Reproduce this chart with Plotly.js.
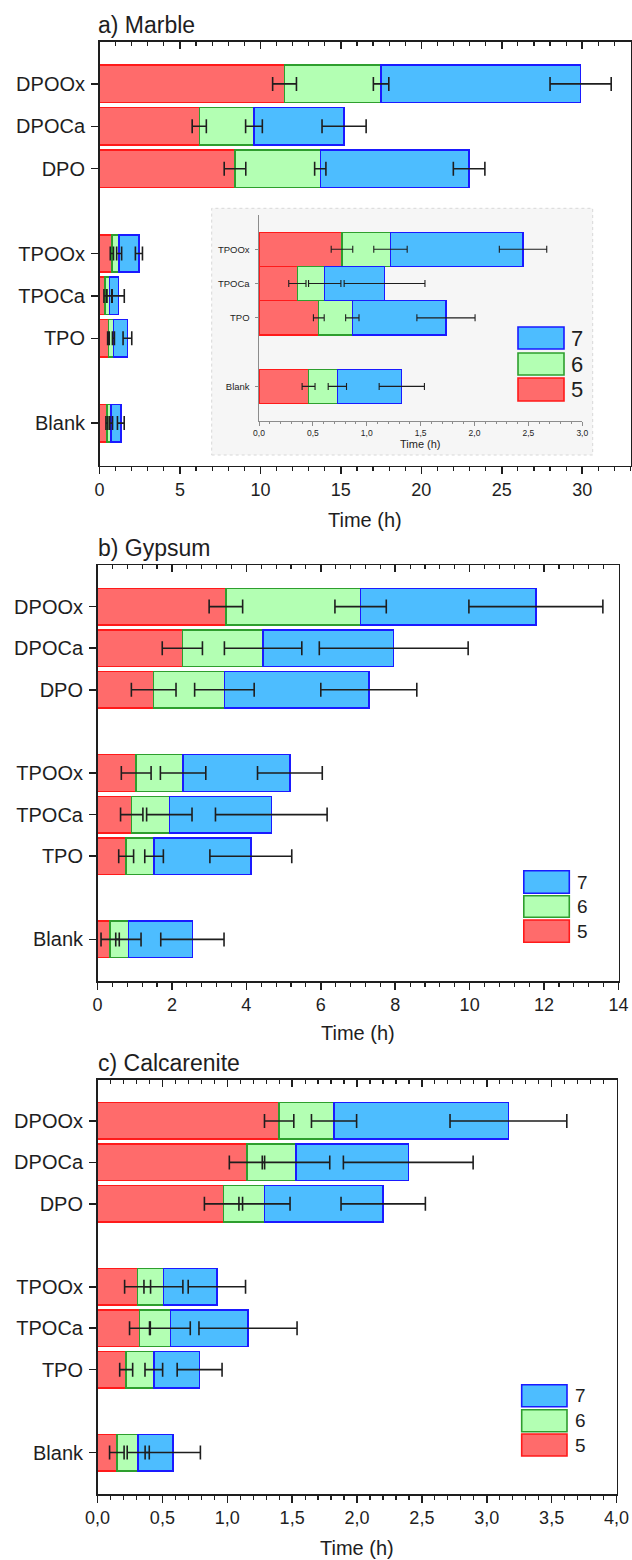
<!DOCTYPE html>
<html><head><meta charset="utf-8">
<script src="https://cdn.plot.ly/plotly-3.0.1.min.js"></script>
<style>html,body{margin:0;padding:0;background:#fff}#chart{width:632px;height:1560px}</style>
</head><body><div id="chart"></div>
<script>
// ---------- DATA ----------
const categories = ['DPOOx', 'DPOCa', 'DPO', 'TPOOx', 'TPOCa', 'TPO', 'Blank'];
const stages = ['5', '6', '7'];
const insetCategories = ['TPOOx', 'TPOCa', 'TPO', 'Blank'];

// a) Marble — cumulative time (h) to reach stage 5, 6, 7, and their errors
const marble5 = [11.5, 6.2, 8.42, 0.77, 0.356, 0.555, 0.46];
const marble6 = [17.5, 9.6, 13.72, 1.22, 0.61, 0.866, 0.727];
const marble7 = [29.9, 15.2, 22.97, 2.45, 1.165, 1.735, 1.325];
const marbleErr5 = [0.74, 0.44, 0.67, 0.10, 0.08, 0.05, 0.06];
const marbleErr6 = [0.48, 0.52, 0.35, 0.155, 0.15, 0.062, 0.085];
const marbleErr7 = [1.9, 1.37, 0.98, 0.22, 0.375, 0.27, 0.21];

// b) Gypsum
const gypsum5 = [3.45, 2.28, 1.51, 1.04, 0.92, 0.77, 0.34];
const gypsum6 = [7.07, 4.45, 3.41, 2.30, 1.93, 1.52, 0.83];
const gypsum7 = [11.78, 7.96, 7.29, 5.17, 4.67, 4.12, 2.55];
const gypsumErr5 = [0.45, 0.54, 0.6, 0.4, 0.3, 0.2, 0.245];
const gypsumErr6 = [0.69, 1.04, 0.8, 0.61, 0.61, 0.25, 0.34];
const gypsumErr7 = [1.8, 2.0, 1.29, 0.87, 1.5, 1.1, 0.85];

// c) Calcarenite
const calc5 = [1.40, 1.152, 0.971, 0.309, 0.324, 0.221, 0.149];
const calc6 = [1.823, 1.53, 1.287, 0.508, 0.561, 0.434, 0.314];
const calc7 = [3.167, 2.395, 2.202, 0.92, 1.16, 0.787, 0.58];
const calcErr5 = [0.113, 0.136, 0.147, 0.1, 0.077, 0.05, 0.056];
const calcErr6 = [0.174, 0.26, 0.197, 0.15, 0.154, 0.068, 0.085];
const calcErr7 = [0.45, 0.5, 0.325, 0.221, 0.378, 0.173, 0.213];

// ---------- STYLE / LAYOUT ----------
const W = 632, H = 1560;
const X = px => px / W;
const Y = py => 1 - py / H;
const FONT = 'Liberation Sans, Arial, Helvetica, sans-serif';
const INK = '#1e1e1e';
const fills = ['#ff6b6b', '#b3ffb3', '#4dbdff'];
const edges = ['#ff1a1a', '#2e9e2e', '#1a1aff'];

// slot positions: consecutive, with one empty slot between groups
function groupOf(name) { return name.startsWith('DPO') ? 'D' : name.startsWith('TPO') ? 'T' : 'B'; }
function slots(cats) {
  const out = []; let p = 0;
  cats.forEach((c, i) => { if (i > 0 && groupOf(c) !== groupOf(cats[i - 1])) p += 1; out.push(p); p += 1; });
  return out;
}
const pos = slots(categories);
const insetPos = slots(insetCategories);

const panels = [
  { title: 'a) Marble', cum: [marble5, marble6, marble7], err: [marbleErr5, marbleErr6, marbleErr7],
    range: [0, 33], dtick: 5, minor: 1, fmt: '', px: [99.5, 630.5], py: [41.5, 465.5], titleY: 25, axTitleY: 520,
    legend: { x0: 518, x1: 564, ys: [[327, 349], [353, 375], [378, 401]], lx: 569, size: 22 } },
  { title: 'b) Gypsum', cum: [gypsum5, gypsum6, gypsum7], err: [gypsumErr5, gypsumErr6, gypsumErr7],
    range: [0, 14], dtick: 2, minor: 0.4, fmt: '', px: [97.5, 618.5], py: [565, 981], titleY: 548, axTitleY: 1033,
    legend: { x0: 523.8, x1: 569.3, ys: [[870.7, 893.3], [895.7, 917.3], [920, 942.3]], lx: 575, size: 19 } },
  { title: 'c) Calcarenite', cum: [calc5, calc6, calc7], err: [calcErr5, calcErr6, calcErr7],
    range: [0, 4], dtick: 0.5, minor: 0.1, fmt: '.1f', px: [97.5, 616.5], py: [1079.5, 1494], titleY: 1063, axTitleY: 1548,
    legend: { x0: 521.7, x1: 567, ys: [[1384.7, 1406.7], [1409.7, 1431.7], [1434, 1456]], lx: 573, size: 19 } }
];

const data = [];
const layout = {
  width: W, height: H, margin: { l: 0, r: 0, t: 0, b: 0 },
  paper_bgcolor: '#ffffff', plot_bgcolor: 'rgba(0,0,0,0)',
  barmode: 'stack', showlegend: false, separators: ', ',
  font: { family: FONT, color: INK },
  annotations: [], shapes: []
};
const axName = (l, n) => n === 1 ? l + 'axis' : l + 'axis' + n;
const axRef = (l, n) => n === 1 ? l : l + n;

function addBars(cum, err, cats, yPos, xa, ya, xe, width, lw, capW, capT) {
  for (let s = 0; s < 3; s++) {
    const inc = cum[s].map((v, i) => s === 0 ? v : v - cum[s - 1][i]);
    data.push({
      type: 'bar', orientation: 'h', x: inc, y: yPos, width: width, name: stages[s],
      xaxis: xa, yaxis: ya,
      marker: { color: fills[s], line: { color: edges[s], width: lw } }
    });
  }
  for (let s = 0; s < 3; s++) {
    data.push({
      type: 'scatter', mode: 'markers', x: cum[s], y: yPos, xaxis: xe, yaxis: ya,
      marker: { size: 1, opacity: 0 },
      error_x: { type: 'data', array: err[s], visible: true, color: INK, thickness: capT, width: capW }
    });
  }
}

panels.forEach((p, k) => {
  const n = k + 1, top = k + 4;
  addBars(p.cum, p.err, categories, pos, axRef('x', n), axRef('y', n), axRef('x', top), 0.88, 1.5, 7, 1.6);
  const dom = [X(p.px[0]), X(p.px[1])];
  layout[axName('x', n)] = {
    domain: dom, range: p.range, anchor: axRef('y', n), dtick: p.dtick, tick0: 0, tickformat: p.fmt,
    ticks: 'outside', ticklen: 7, tickwidth: 1.5, tickcolor: INK,
    minor: { dtick: p.minor, ticks: 'outside', ticklen: 4, tickwidth: 1.2, tickcolor: INK, showgrid: false },
    showline: true, linecolor: INK, linewidth: 1.5, showgrid: false, zeroline: false,
    tickfont: { size: 18, family: FONT, color: INK }, fixedrange: true
  };
  layout[axName('x', top)] = {
    overlaying: axRef('x', n), matches: axRef('x', n), side: 'top', anchor: axRef('y', n), range: p.range,
    dtick: p.dtick, tick0: 0, ticks: 'inside', ticklen: 7, tickwidth: 1.5, tickcolor: INK, showticklabels: false,
    minor: { dtick: p.minor, ticks: 'inside', ticklen: 4, tickwidth: 1.2, tickcolor: INK, showgrid: false },
    showline: true, linecolor: INK, linewidth: 1.5, showgrid: false, zeroline: false
  };
  layout[axName('y', n)] = {
    domain: [Y(p.py[1]), Y(p.py[0])], range: [pos[pos.length - 1] + 1, -1], anchor: axRef('x', n),
    tickvals: pos, ticktext: categories, ticks: 'outside', ticklen: 7, tickwidth: 1.5, tickcolor: INK,
    showline: true, mirror: true, linecolor: INK, linewidth: 1.5, showgrid: false, zeroline: false,
    tickfont: { size: 20, family: FONT, color: INK }, ticklabelstandoff: 2
  };
  layout.annotations.push({ xref: 'paper', yref: 'paper', x: X(96), y: Y(p.titleY), xanchor: 'left', yanchor: 'middle',
    text: p.title, showarrow: false, font: { size: 23, family: FONT, color: INK } });
  layout.annotations.push({ xref: 'paper', yref: 'paper', x: (dom[0] + dom[1]) / 2, y: Y(p.axTitleY), xanchor: 'center', yanchor: 'middle',
    text: 'Time (h)', showarrow: false, font: { size: 20, family: FONT, color: INK } });
  // legend boxes (top to bottom: 7, 6, 5)
  const L = p.legend;
  [2, 1, 0].forEach((s, r) => {
    layout.shapes.push({ type: 'rect', xref: 'paper', yref: 'paper', layer: 'above',
      x0: X(L.x0), x1: X(L.x1), y0: Y(L.ys[r][1]), y1: Y(L.ys[r][0]),
      fillcolor: fills[s], line: { color: edges[s], width: 1.6 } });
    layout.annotations.push({ xref: 'paper', yref: 'paper', x: X(L.lx), y: Y((L.ys[r][0] + L.ys[r][1]) / 2),
      xanchor: 'left', yanchor: 'middle', text: stages[s], showarrow: false, font: { size: L.size, family: FONT, color: INK } });
  });
});

// ---------- INSET (Marble, TPO series and Blank) ----------
const idx = insetCategories.map(c => categories.indexOf(c));
const pick = arr => idx.map(i => arr[i]);
const insetCum = [marble5, marble6, marble7].map(pick);
const insetErr = [marbleErr5, marbleErr6, marbleErr7].map(pick);
addBars(insetCum, insetErr, insetCategories, insetPos, 'x7', 'y7', 'x7', 1.0, 1.2, 3.5, 1.1);
const GRAY = '#8c8c8c';
layout.xaxis7 = {
  domain: [X(259), X(582.3)], range: [0, 3], anchor: 'y7', dtick: 0.5, tick0: 0, tickformat: '.1f',
  ticks: 'outside', ticklen: 4, tickwidth: 1, tickcolor: GRAY,
  minor: { dtick: 0.1, ticks: 'outside', ticklen: 2, tickwidth: 1, tickcolor: GRAY, showgrid: false },
  showline: true, linecolor: GRAY, linewidth: 1.5, showgrid: false, zeroline: false,
  tickfont: { size: 8.5, family: FONT, color: INK }
};
layout.yaxis7 = {
  domain: [Y(420.7), Y(215)], range: [insetPos[insetPos.length - 1] + 1, -1], anchor: 'x7',
  tickvals: insetPos, ticktext: insetCategories, ticks: 'outside', ticklen: 3, tickwidth: 1, tickcolor: GRAY,
  showline: true, linecolor: GRAY, linewidth: 1.5, showgrid: false, zeroline: false,
  tickfont: { size: 9.5, family: FONT, color: INK }, ticklabelstandoff: 3
};
layout.annotations.push({ xref: 'paper', yref: 'paper', x: X((259 + 582.3) / 2), y: Y(444), xanchor: 'center', yanchor: 'middle',
  text: 'Time (h)', showarrow: false, font: { size: 11, family: FONT, color: INK } });
layout.shapes.push({ type: 'rect', xref: 'paper', yref: 'paper', layer: 'below',
  x0: X(211.7), x1: X(592.7), y0: Y(455), y1: Y(208.3),
  fillcolor: '#f6f6f6', line: { color: '#d8d8d8', width: 1, dash: 'dot' } });

Plotly.newPlot('chart', data, layout, { staticPlot: true, displayModeBar: false });
</script></body></html>
